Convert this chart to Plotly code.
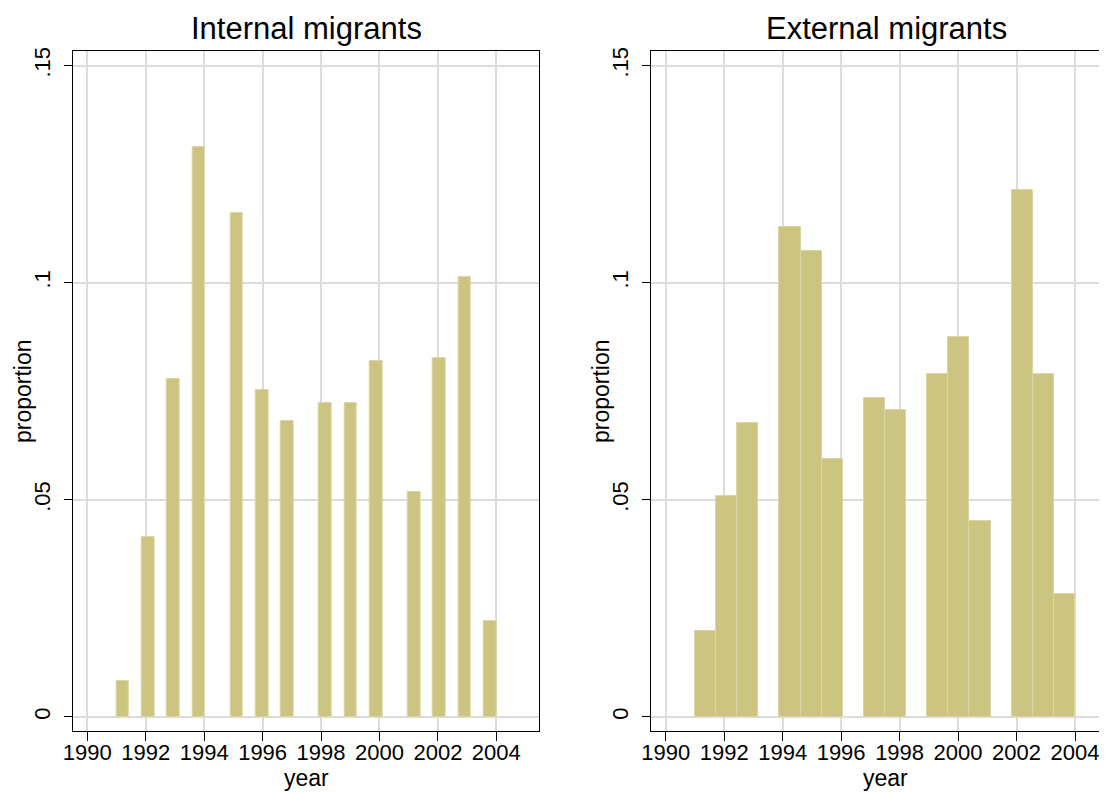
import plotly.graph_objects as go

# ---- data (histogram fractions per bin) ----
bin_start = 1991
bin_end = 2004

internal_fraction = [0.0082, 0, 0.0414, 0, 0.0779, 0, 0.1313, 0, 0, 0.1160,
                     0, 0.0754, 0, 0.0682, 0, 0, 0.0722, 0, 0.0722, 0,
                     0.0820, 0, 0, 0.0519, 0, 0.0826, 0, 0.1014, 0, 0.0220]
external_fraction = [0.0198, 0.0508, 0.0677, 0, 0.1128, 0.1073, 0.0594, 0,
                     0.0734, 0.0706, 0, 0.0790, 0.0876, 0.0452, 0, 0.1214,
                     0.0790, 0.0283]

x_ticks = [1990, 1992, 1994, 1996, 1998, 2000, 2002, 2004]
y_ticks = [0, 0.05, 0.1, 0.15]
y_tick_labels = ["0", ".05", ".1", ".15"]
panel_titles = ["Internal migrants", "External migrants"]
x_title = "year"
y_title = "proportion"

FILL = "rgb(204,197,130)"
EDGE = "rgb(219,214,163)"
GRID = "#dcdcdc"
FONT = "Liberation Sans, Arial, Helvetica, sans-serif"


def hist_bars(values, xaxis, yaxis):
    n = len(values)
    w = (bin_end - bin_start) / n
    xs, ys = [], []
    for i, v in enumerate(values):
        if v > 0:
            xs.append(bin_start + (i + 0.5) * w)
            ys.append(v)
    return go.Bar(x=xs, y=ys, width=w, xaxis=xaxis, yaxis=yaxis,
                  marker=dict(color=FILL, line=dict(color=EDGE, width=1)),
                  showlegend=False, hoverinfo="x+y")


fig = go.Figure()
fig.add_trace(hist_bars(internal_fraction, "x", "y"))
fig.add_trace(hist_bars(external_fraction, "x2", "y2"))

# page body has an 8px margin; figure coordinates = screen - 8
OFF = 8
W, H = 1099, 786


def px_x(sx):
    return (sx - OFF) / W


def px_y(sy):
    return 1 - (sy - OFF) / H


left_dom = [px_x(72.7), px_x(539)]
right_dom = [px_x(651), 1.0]
y_dom = [px_y(731), px_y(51)]

common_x = dict(tickvals=x_ticks, ticks="outside", ticklen=9, tickwidth=1,
                tickcolor="black", showline=True, linecolor="black", linewidth=1,
                mirror=True, showgrid=True, gridcolor=GRID, gridwidth=1.5,
                zeroline=False, automargin=False, ticklabelstandoff=-7,
                tickfont=dict(size=22, color="black", family=FONT))
common_y = dict(tickvals=y_ticks, ticktext=y_tick_labels, tickangle=-90,
                ticks="outside", ticklen=8, tickwidth=1, tickcolor="black",
                showline=True, linecolor="black", linewidth=1,
                showgrid=True, gridcolor=GRID, gridwidth=1.5, zeroline=False,
                automargin=False, ticklabelstandoff=5,
                range=[-0.00323, 0.15334],
                tickfont=dict(size=22, color="black", family=FONT))


def label(text, sx, sy, size, angle=0):
    return dict(text=text, x=px_x(sx), y=px_y(sy), xref="paper", yref="paper",
                xanchor="center", yanchor="middle", showarrow=False, textangle=angle,
                font=dict(size=size, color="black", family=FONT))


fig.update_layout(
    width=W, height=H,
    margin=dict(l=0, r=0, t=0, b=0),
    paper_bgcolor="white", plot_bgcolor="white",
    bargap=0,
    font=dict(family=FONT, color="black"),
    xaxis=dict(domain=left_dom, range=[1989.5, 2005.46], anchor="y", **common_x),
    yaxis=dict(domain=y_dom, anchor="x", mirror=True, **common_y),
    xaxis2=dict(domain=right_dom, range=[1989.497, 2005.094], anchor="y2", **common_x),
    yaxis2=dict(domain=y_dom, anchor="x2", mirror=False, **common_y),
    annotations=[
        label(panel_titles[0], 306, 29, 31),
        label(panel_titles[1], 886, 29, 31),
        label(x_title, 306, 778, 23),
        label(x_title, 885, 778, 23),
        label(y_title, 23, 391, 23, -90),
        label(y_title, 601, 391, 23, -90),
    ],
)

fig.write_html("out.html")
